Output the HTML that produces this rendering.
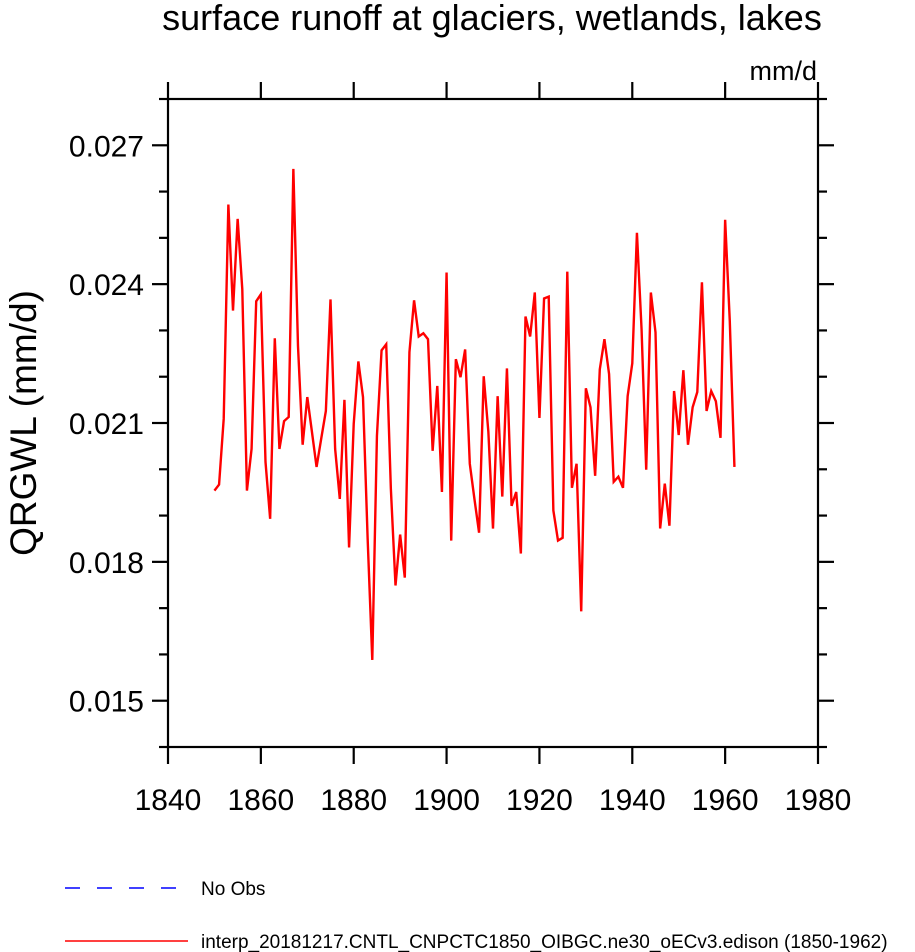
<!DOCTYPE html>
<html><head><meta charset="utf-8">
<style>
html,body{margin:0;padding:0;background:#fff;}
svg{display:block;font-family:"Liberation Sans",Arial,sans-serif;}
</style></head>
<body>
<svg id="chart" width="915" height="952" viewBox="0 0 915 952">
  <text x="492" y="30" font-size="36" text-anchor="middle">surface runoff at glaciers, wetlands, lakes</text>
  <text x="817" y="80" font-size="27" text-anchor="end">mm/d</text>
  <text transform="translate(36,423) rotate(-90)" font-size="37" text-anchor="middle">QRGWL  (mm/d)</text>
  <g id="axes"></g>
  <g id="series"></g>
  <g>
    <line x1="65" y1="888" x2="180" y2="888" stroke="#0000ff" stroke-width="1.5" stroke-dasharray="15,17"/>
    <text x="201" y="895" font-size="19">No Obs</text>
    <line x1="65" y1="941" x2="188" y2="941" stroke="#ff0000" stroke-width="1.5"/>
    <text x="201" y="948" font-size="19">interp_20181217.CNTL_CNPCTC1850_OIBGC.ne30_oECv3.edison (1850-1962)</text>
  </g>
</svg>
<script>
const startYear = 1850;
const values = [
0.01954,0.01967,0.02109,0.02572,0.02343,0.02541,0.02389,0.01954,0.02044,0.02363,
0.02378,0.02016,0.01893,0.02283,0.02044,0.02104,0.02113,0.02649,0.02266,0.02053,
0.02156,0.02081,0.02005,0.02066,0.02126,0.02367,0.02044,0.01936,0.02150,0.01831,
0.02098,0.02233,0.02156,0.01850,0.01588,0.02072,0.02257,0.02270,0.01958,0.01749,
0.01859,0.01766,0.02253,0.02365,0.02287,0.02294,0.02281,0.02040,0.02180,0.01951,
0.02425,0.01846,0.02238,0.02199,0.02259,0.02012,0.01936,0.01863,0.02201,0.02081,
0.01872,0.02158,0.01941,0.02218,0.01921,0.01951,0.01818,0.02330,0.02287,0.02382,
0.02111,0.02369,0.02373,0.01911,0.01846,0.01852,0.02427,0.01960,0.02012,0.01693,
0.02175,0.02134,0.01986,0.02216,0.02281,0.02206,0.01973,0.01984,0.01960,0.02158,
0.02229,0.02511,0.02302,0.01999,0.02382,0.02296,0.01872,0.01969,0.01878,0.02169,
0.02074,0.02214,0.02053,0.02134,0.02167,0.02404,0.02126,0.02169,0.02147,0.02068,
0.02539,0.02320,0.02005];
const xTicks = [1840,1860,1880,1900,1920,1940,1960,1980];
const yTicks = [0.015,0.018,0.021,0.024,0.027];
const yTickLabels = ["0.015","0.018","0.021","0.024","0.027"];
const yMinorTicks = [0.014,0.016,0.017,0.019,0.020,0.022,0.023,0.025,0.026,0.028];

const L=168,R=818,T=99,B=747;
const xMin=1840,xMax=1980,yMin=0.014,yMax=0.028;
function xs(v){return L+(v-xMin)/(xMax-xMin)*(R-L);}
function ys(v){return B-(v-yMin)/(yMax-yMin)*(B-T);}
const NS="http://www.w3.org/2000/svg";
const axes=document.getElementById('axes');
function mk(tag,attrs,parent){const e=document.createElementNS(NS,tag);for(const k in attrs)e.setAttribute(k,attrs[k]);parent.appendChild(e);return e;}

const frame=mk('rect',{x:L,y:T,width:R-L,height:B-T,fill:'none',stroke:'#000','stroke-width':2.2},axes);



xTicks.forEach(t=>{
  const x=xs(t);
  const a=mk('line',{x1:x,y1:B,x2:x,y2:B+17,stroke:'#000','stroke-width':2.2},axes);
  
  
  const b=mk('line',{x1:x,y1:T,x2:x,y2:T-17,stroke:'#000','stroke-width':2.2},axes);
  
  
  const tx=mk('text',{x:x,y:810,'font-size':30,'text-anchor':'middle'},axes);
  tx.textContent=t;
  
  
});
yTicks.forEach((t,i)=>{
  const y=ys(t);
  const a=mk('line',{x1:L,y1:y,x2:L-16,y2:y,stroke:'#000','stroke-width':2.2},axes);
  
  
  const b=mk('line',{x1:R,y1:y,x2:R+16,y2:y,stroke:'#000','stroke-width':2.2},axes);
  
  
  const tx=mk('text',{x:144,y:y+11,'font-size':30,'text-anchor':'end'},axes);
  tx.textContent=yTickLabels[i];
  
  
});
yMinorTicks.forEach(t=>{
  const y=ys(t);
  const a=mk('line',{x1:L,y1:y,x2:L-9,y2:y,stroke:'#000','stroke-width':2.2},axes);
  
  
  const b=mk('line',{x1:R,y1:y,x2:R+9,y2:y,stroke:'#000','stroke-width':2.2},axes);
  
  
});

const pts=values.map((v,i)=>xs(startYear+i).toFixed(2)+','+ys(v).toFixed(2)).join(' ');
const line=mk('polyline',{points:pts,fill:'none',stroke:'#ff0000','stroke-width':2.4,'stroke-linejoin':'miter'},document.getElementById('series'));


</script>
</body></html>
